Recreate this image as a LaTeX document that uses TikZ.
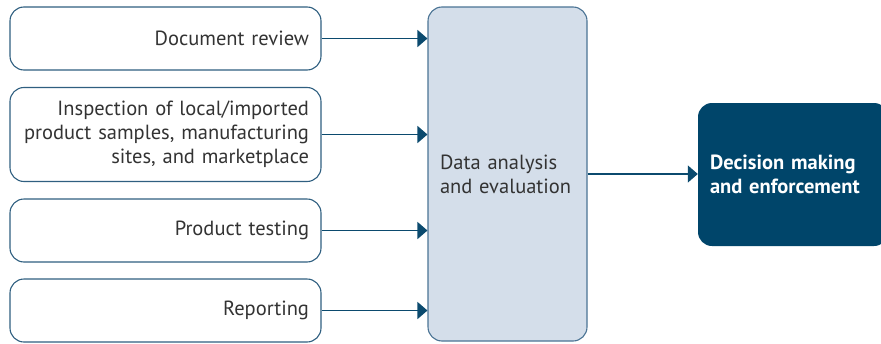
\documentclass[tikz,border=0pt]{standalone}
\usepackage{fontspec}
\setmainfont{PT Sans}
\usepackage{tikz}
\usetikzlibrary{arrows.meta, positioning, calc}
\definecolor{edgeblue}{HTML}{2F5F80}
\definecolor{arrowblue}{HTML}{0B4A6E}
\definecolor{hubfill}{HTML}{D4DEEA}
\definecolor{hubedge}{HTML}{4A7394}
\definecolor{darkblue}{HTML}{00456A}
\definecolor{textgray}{HTML}{333333}
\tikzset{
  inbox/.style={draw=edgeblue, line width=1.1pt, fill=white, rounded corners=14pt,
    minimum width=311pt, text width=287pt, align=right, inner sep=0pt,
    font=\fontsize{20.5}{24}\selectfont, text=textgray},
  hubbox/.style={draw=hubedge, line width=1.1pt, fill=hubfill, rounded corners=14pt,
    minimum width=159pt, minimum height=334pt, text width=135pt, align=left, inner sep=0pt,
    font=\fontsize{20.5}{24}\selectfont, text=textgray},
  outbox/.style={fill=darkblue, rounded corners=14pt,
    minimum width=190pt, minimum height=143pt, text width=166pt, align=left, inner sep=0pt,
    font=\bfseries\fontsize{20.5}{24}\selectfont, text=white},
  flowarrow/.style={draw=arrowblue, line width=1.4pt, -{Triangle[length=10pt,width=17pt]}}
}
\begin{document}
\begin{tikzpicture}[x=1pt,y=-1pt]
\useasboundingbox (0,0) rectangle (881,343);
% inputs on the left
\node[inbox, minimum height=63pt] (review) at (165.5,38.5) {Document review};
\node[inbox, minimum height=94pt] (inspect) at (165.5,134.5) {Inspection of local/imported\\product samples, manufacturing\\sites, and marketplace};
\node[inbox, minimum height=63pt] (testing) at (165.5,230.5) {Product testing};
\node[inbox, minimum height=63pt] (report) at (165.5,310.5) {Reporting};
% analysis and decision
\node[hubbox] (analysis) at (507.5,174) {Data analysis\\and evaluation};
\node[outbox] (decision) at (793,174.5) {Decision making\\and enforcement};
% connectors
\foreach \src in {review,inspect,testing,report}
  \draw[flowarrow] (\src.east) -- (\src.east -| analysis.west);
\draw[flowarrow] (analysis.east) -- (analysis.east -| decision.west);
\end{tikzpicture}
\end{document}
